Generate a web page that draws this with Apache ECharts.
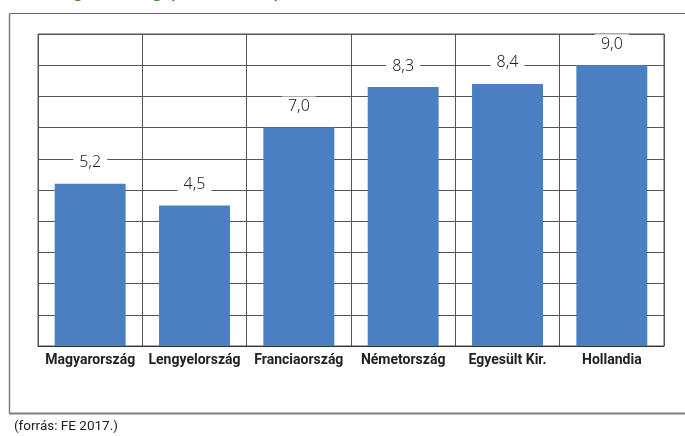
<!DOCTYPE html>
<html>
<head>
<meta charset="utf-8">
<script src="https://cdn.jsdelivr.net/npm/echarts@6/dist/echarts.min.js"></script>
<style>
  html, body { margin: 0; padding: 0; background: #fff; }
  #chart { width: 685px; height: 436px; }
</style>
</head>
<body>
<div id="chart"></div>
<script>
const countries = ['Magyarország', 'Lengyelország', 'Franciaország', 'Németország', 'Egyesült Kir.', 'Hollandia'];
const scores = [5.2, 4.5, 7.0, 8.3, 8.4, 9.0];
const yMin = 0;
const yMax = 10;
const yStep = 1;
const titleText = 'Elégedettség (skála 1–10)';
const sourceText = '(forrás: FE 2017.)';

const chart = echarts.init(document.getElementById('chart'));

const gridColor = '#555';
const frameColor = '#808080';

const option = {
  backgroundColor: '#fff',
  animation: false,
  title: {
    text: titleText,
    left: 40,
    top: -23,
    textStyle: {
      color: '#3a8a2c',
      fontSize: 20,
      fontWeight: 'bold',
      fontFamily: 'Roboto'
    }
  },
  grid: {
    left: 38,
    right: 21,
    top: 34,
    bottom: 90,
    show: true,
    borderColor: gridColor,
    borderWidth: 1
  },
  xAxis: {
    type: 'category',
    data: countries,
    axisLine: { show: true, lineStyle: { color: '#333', width: 1 } },
    axisTick: { show: false },
    splitLine: { show: true, lineStyle: { color: gridColor, width: 1 } },
    axisLabel: {
      color: '#222',
      fontSize: 14,
      fontWeight: 'bold',
      fontFamily: 'Roboto',
      margin: 7,
      interval: 0
    }
  },
  yAxis: {
    type: 'value',
    min: yMin,
    max: yMax,
    interval: yStep,
    axisLine: { show: false },
    axisTick: { show: false },
    axisLabel: { show: false },
    splitLine: { lineStyle: { color: gridColor, width: 1 } }
  },
  series: [{
    type: 'bar',
    data: scores,
    barWidth: '68%',
    itemStyle: { color: '#4a80c1' },
    label: {
      show: true,
      position: 'top',
      distance: 11,
      color: '#222',
      fontSize: 16,
      fontFamily: 'Noto Sans',
      fontWeight: 300,
      backgroundColor: '#fff',
      padding: [2, 6],
      formatter: p => p.value.toFixed(1).replace('.', ',')
    }
  }],
  graphic: [
    { type: 'line', shape: { x1: 9.5, y1: 13.5, x2: 685, y2: 13.5 }, style: { stroke: '#666', lineWidth: 1 } },
    { type: 'line', shape: { x1: 9.5, y1: 13.5, x2: 9.5, y2: 413 }, style: { stroke: frameColor, lineWidth: 1.5 } },
    { type: 'line', shape: { x1: 9, y1: 413.5, x2: 685, y2: 413.5 }, style: { stroke: frameColor, lineWidth: 2 } },
    {
      type: 'text',
      left: 14,
      top: 420,
      style: { text: sourceText, fill: '#222', fontSize: 13.5, fontFamily: 'Roboto' }
    }
  ]
};

chart.setOption(option);

window.addEventListener('resize', () => {
  chart.resize();
});
</script>
</body>
</html>
